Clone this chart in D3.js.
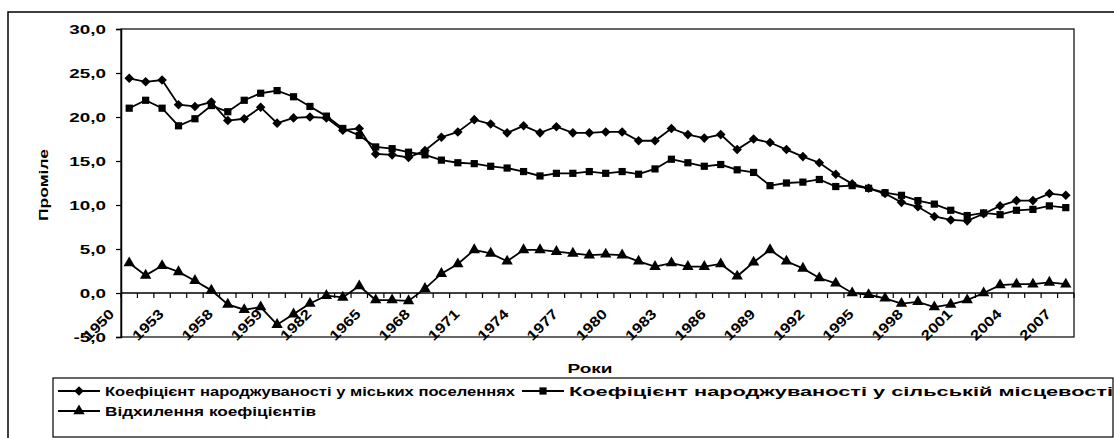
<!DOCTYPE html>
<html><head><meta charset="utf-8">
<script src="https://cdn.jsdelivr.net/npm/d3@7"></script>
<style>
body{margin:0;background:#fff}
svg text{font-family:"Liberation Sans",Arial,sans-serif;font-weight:bold;fill:#000}
</style>
</head><body>
<svg id="c" width="1114" height="438"></svg>
<script>
// ---------------- data ----------------
const years = [1950,1951,1952,1953,1954,1955,1956,1957,1958,1959,
  1960,1961,1962,1963,1964,1965,1966,1967,1968,1969,
  1970,1971,1972,1973,1974,1975,1976,1977,1978,1979,
  1980,1981,1982,1983,1984,1985,1986,1987,1988,1989,
  1990,1991,1992,1993,1994,1995,1996,1997,1998,1999,
  2000,2001,2002,2003,2004,2005,2006,2007];
const tickLabels = ["1950","1953","1958","1959","1982","1965","1968","1971","1974","1977",
  "1980","1983","1986","1989","1992","1995","1998","2001","2004","2007"];
const urban = [24.4,24.0,24.2,21.4,21.2,21.7,19.6,19.8,21.1,19.3,
  19.9,20.0,19.9,18.5,18.7,15.8,15.7,15.4,16.2,17.7,
  18.3,19.7,19.2,18.2,19.0,18.2,18.9,18.2,18.2,18.3,
  18.3,17.3,17.3,18.7,18.0,17.6,18.0,16.3,17.5,17.1,
  16.3,15.5,14.8,13.5,12.4,11.9,11.3,10.3,9.8,8.7,
  8.3,8.2,9.0,9.9,10.5,10.5,11.3,11.1];
const rural = [21.0,21.9,21.0,19.0,19.8,21.3,20.6,21.9,22.7,23.0,
  22.3,21.2,20.1,18.7,17.9,16.6,16.4,16.0,15.7,15.1,
  14.8,14.7,14.4,14.2,13.8,13.3,13.6,13.6,13.8,13.6,
  13.8,13.5,14.1,15.2,14.8,14.4,14.6,14.0,13.7,12.2,
  12.5,12.6,12.9,12.1,12.2,11.9,11.4,11.1,10.5,10.1,
  9.4,8.8,9.1,8.9,9.4,9.5,9.9,9.7];
const deviation = [3.4,2.0,3.1,2.4,1.4,0.3,-1.3,-1.9,-1.6,-3.6,
  -2.4,-1.2,-0.3,-0.5,0.8,-0.8,-0.8,-0.9,0.5,2.2,
  3.3,4.9,4.5,3.6,4.9,4.9,4.7,4.5,4.3,4.4,
  4.3,3.6,3.0,3.4,3.0,3.0,3.3,1.9,3.5,4.9,
  3.6,2.8,1.7,1.1,0.0,-0.2,-0.6,-1.2,-1.0,-1.6,
  -1.3,-0.8,0.0,0.9,1.0,1.0,1.2,1.0];
const yTicks = [-5,0,5,10,15,20,25,30];
const seriesNames = ["Коефіцієнт народжуваності у міських поселеннях",
  "Коефіцієнт народжуваності у сільській місцевості",
  "Відхилення коефіцієнтів"];
const yTitle = "Проміле";
const xTitle = "Роки";

// ---------------- layout ----------------
const svg = d3.select("#c");
const P = {l:121, r:1074, t:29, b:337};
const x = d3.scaleBand().domain(years).range([P.l, P.r]);
const y = d3.scaleLinear().domain([-5,30]).range([P.b, P.t]);
const cx = d => x(d) + x.bandwidth()/2;

function fit(sel, w){ sel.attr("textLength", w).attr("lengthAdjust","spacingAndGlyphs"); }
function stretch(sel, k){ sel.each(function(){ const n=this.getComputedTextLength(); d3.select(this).attr("textLength", n*k).attr("lengthAdjust","spacingAndGlyphs"); }); }

// outer chart border
svg.append("rect").attr("x",8).attr("y",12).attr("width",1130).attr("height",450)
  .attr("fill","none").attr("stroke","#000").attr("stroke-width",1.5);
// plot area
svg.append("rect").attr("x",P.l).attr("y",P.t).attr("width",P.r-P.l).attr("height",P.b-P.t)
  .attr("fill","#fff").attr("stroke","#000").attr("stroke-width",1.2);

// y axis
const fmt = d => d3.format(".1f")(d).replace(".",",").replace("−","-");
const ya = svg.append("g").attr("transform",`translate(${P.l},0)`)
  .call(d3.axisLeft(y).tickValues(yTicks).tickSize(5).tickPadding(10).tickFormat(fmt));
ya.select(".domain").attr("stroke","#000").attr("stroke-width",1.5);
ya.selectAll("line").attr("stroke","#000").attr("stroke-width",1.2);
ya.selectAll("text").attr("font-size",13).attr("fill","#000").call(stretch,1.45);

// x axis at zero
const xa = svg.append("g");
xa.append("line").attr("x1",P.l).attr("x2",P.r).attr("y1",y(0)).attr("y2",y(0))
  .attr("stroke","#000").attr("stroke-width",1.6);
xa.selectAll("line.t").data(years.concat([null])).join("line").attr("class","t")
  .attr("x1",(d,i)=> i<years.length ? x(d) : P.r).attr("x2",(d,i)=> i<years.length ? x(d) : P.r)
  .attr("y1",y(0)).attr("y2",y(0)+5).attr("stroke","#000").attr("stroke-width",1.2);
const labYears = years.filter((d,i)=> i%3===0);
xa.selectAll("text").data(labYears).join("text")
  .attr("transform",(d)=>`translate(${cx(d)-14},${y(0)+22}) rotate(-45)`)
  .attr("text-anchor","end").attr("font-size",14)
  .text((d,i)=>tickLabels[i]).call(stretch,1.2);

// series
const line = d3.line().x((d,i)=>cx(years[i])).y(d=>y(d));
const series = [
  {v:urban, sym:"diamond"},
  {v:rural, sym:"square"},
  {v:deviation, sym:"triangle"}];
const symPath = {
  diamond: d3.symbol().type(d3.symbolSquare).size(46)(),
  square: d3.symbol().type(d3.symbolSquare).size(52)(),
  triangle: d3.symbol().type(d3.symbolTriangle).size(56)()
};
const symRot = {diamond:45, square:0, triangle:0};
series.forEach(s=>{
  svg.append("path").attr("d",line(s.v)).attr("fill","none").attr("stroke","#000").attr("stroke-width",1.8);
  svg.append("g").selectAll("path").data(s.v).join("path")
    .attr("d",symPath[s.sym]).attr("fill","#000")
    .attr("transform",(d,i)=>`translate(${cx(years[i])},${y(d)}) rotate(${symRot[s.sym]})`);
});

// axis titles
svg.append("text").attr("transform","translate(48,185) rotate(-90)").attr("text-anchor","middle")
  .attr("font-size",13).text(yTitle).call(fit,72);
svg.append("text").attr("x",590).attr("y",373).attr("text-anchor","middle")
  .attr("font-size",13).text(xTitle).call(fit,45);

// legend
const L = svg.append("g");
L.append("rect").attr("x",53).attr("y",378).attr("width",1060).attr("height",59)
  .attr("fill","#fff").attr("stroke","#000").attr("stroke-width",1.2);
const leg = [
  {x:58, y:391, w:410, s:"diamond"},
  {x:522, y:391, w:544, s:"square"},
  {x:58, y:411, w:211, s:"triangle"}];
leg.forEach((g,i)=>{
  L.append("line").attr("x1",g.x).attr("x2",g.x+42).attr("y1",g.y).attr("y2",g.y)
    .attr("stroke","#000").attr("stroke-width",1.8);
  L.append("path").attr("d",symPath[g.s]).attr("fill","#000")
    .attr("transform",`translate(${g.x+21},${g.y}) rotate(${symRot[g.s]})`);
  L.append("text").attr("x",g.x+47).attr("y",g.y+5).attr("font-size",13)
    .text(seriesNames[i]).call(fit,g.w);
});
</script>
</body></html>
